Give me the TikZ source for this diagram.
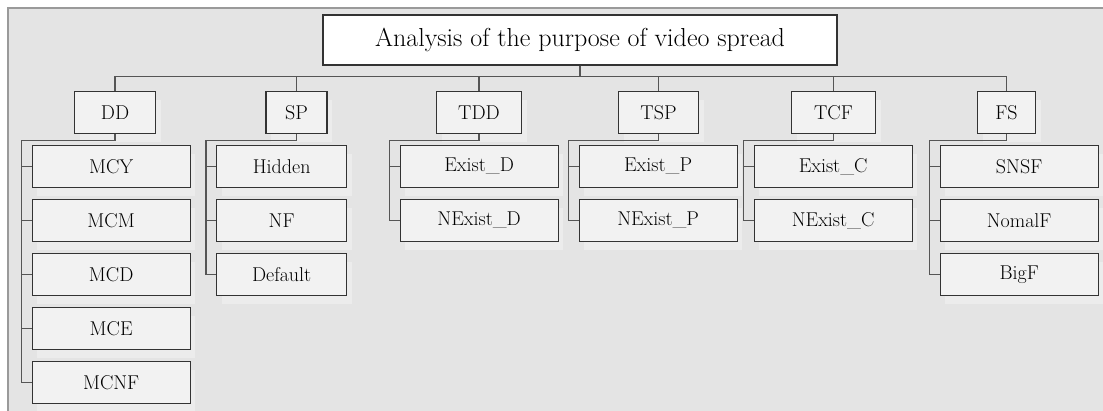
\documentclass[tikz,border=0pt]{standalone}
\usepackage{fontspec}
\usepackage{tikz}
\usetikzlibrary{trees}
\usetikzlibrary{shadows}

\definecolor{panelgray}{HTML}{E4E4E4}
\definecolor{panelrule}{HTML}{9A9A9A}
\definecolor{boxfill}{HTML}{F2F2F2}
\definecolor{halofill}{HTML}{ECECEC}
\definecolor{boxrule}{HTML}{333333}
\definecolor{linkrule}{HTML}{555555}

\begin{document}
\begin{tikzpicture}[
    grow=down, % categories hang below the title box
    level distance=72.5pt, % title centre to category centre
    level 1/.style={
        sibling distance=178.5pt,
        edge from parent path={(\tikzparentnode.south) |- ([yshift=14pt]\tikzchildnode.north) -- (\tikzchildnode.north)}
    },
    level 2/.style={
        every node/.append style={anchor=west},
        edge from parent path={(\tikzparentnode.south) -- ++(0,-6pt) -| ([xshift=-10pt]\tikzchildnode.west) -- (\tikzchildnode.west)}
    },
    edge from parent/.style={draw=linkrule, line width=1.1pt},
    items/.style={grow via three points={one child at (#1,-54pt) and two children at (#1,-54pt) and (#1,-108pt)}},
    titlebox/.style={
        draw=boxrule, line width=1.3pt, fill=white,
        minimum width=514pt, minimum height=50pt, inner sep=0pt,
        font=\fontsize{26}{30}\selectfont
    },
    catbox/.style={
        draw=boxrule, line width=1.3pt, fill=boxfill,
        minimum height=42pt, inner sep=0pt,
        font=\fontsize{20}{24}\selectfont,
        drop shadow={shadow xshift=5pt, shadow yshift=-9pt, fill=halofill, opacity=1}
    },
    itembox/.style={catbox, minimum width=158pt}
]

% grey panel behind the chart
\useasboundingbox (0,0) rectangle (1103pt,-411pt);
\fill[panelgray] (8pt,-8pt) rectangle (1103pt,-411pt);
\draw[panelrule, line width=1.5pt] (8pt,-411pt) -- (8pt,-8pt) -- (1103pt,-8pt);

\node[titlebox] (title) at (580pt,-40pt) {Analysis of the purpose of video spread}
    child[xshift=-18.75pt] { node[catbox, minimum width=81pt] (dd) {DD} [items=-83.5pt]
        child { node[itembox] (mcy) {MCY} }
        child { node[itembox] (mcm) {MCM} }
        child { node[itembox] (mcd) {MCD} }
        child { node[itembox] (mce) {MCE} }
        child { node[itembox] (mcnf) {MCNF} }
    }
    child[xshift=-15.75pt] { node[catbox, minimum width=61pt] (sp) {SP} [items=-80.5pt]
        child { node[itembox, minimum width=130pt] (hidden) {Hidden} }
        child { node[itembox, minimum width=130pt] (nf) {NF} }
        child { node[itembox, minimum width=130pt] (dflt) {Default} }
    }
    child[xshift=-11.75pt] { node[catbox, minimum width=85pt] (tdd) {TDD} [items=-79.5pt]
        child { node[itembox] (existd) {Exist\_D} }
        child { node[itembox] (nexistd) {NExist\_D} }
    }
    child[xshift=-10.75pt] { node[catbox, minimum width=80pt] (tsp) {TSP} [items=-80pt]
        child { node[itembox] (existp) {Exist\_P} }
        child { node[itembox] (nexistp) {NExist\_P} }
    }
    child[xshift=-14.25pt] { node[catbox, minimum width=84pt] (tcf) {TCF} [items=-80pt]
        child { node[itembox] (existc) {Exist\_C} }
        child { node[itembox] (nexistc) {NExist\_C} }
    }
    child[xshift=-19.75pt] { node[catbox, minimum width=58pt] (fs) {FS} [items=-67pt]
        child { node[itembox] (snsf) {SNSF} }
        child { node[itembox] (nomalf) {NomalF} }
        child { node[itembox] (bigf) {BigF} }
    }
    ;
\end{tikzpicture}
\end{document}
